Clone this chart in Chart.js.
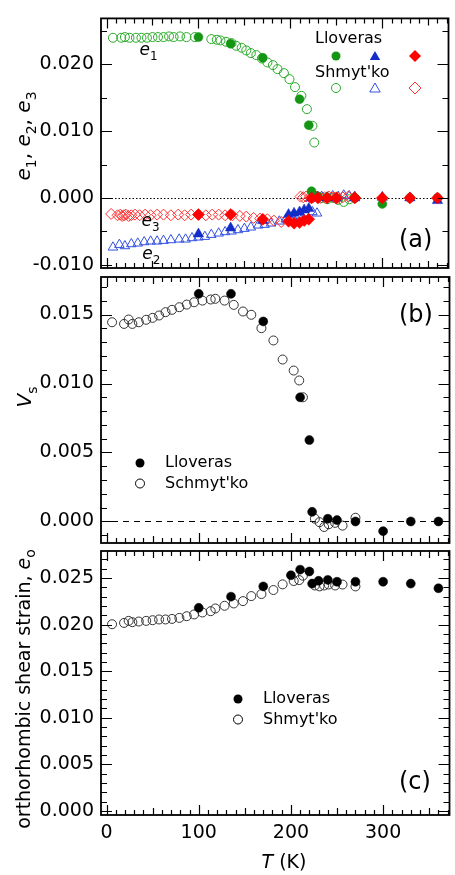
<!DOCTYPE html>
<html>
<head>
<meta charset="utf-8">
<script src="https://cdn.jsdelivr.net/npm/chart.js@4.4.1/dist/chart.umd.min.js"></script>
<style>
  html, body { margin: 0; padding: 0; background: #fff; }
  #wrap { position: relative; width: 455px; height: 875px; }
  canvas { position: absolute; left: 0; top: 0; }
</style>
</head>
<body>
<div id="wrap">
  <canvas id="pa" width="455" height="875"></canvas>
  <canvas id="pb" width="455" height="875"></canvas>
  <canvas id="pc" width="455" height="875"></canvas>
</div>
<script>
// ---- data ----
const xTicks = [0, 100, 200, 300];

// (a) strains e1, e2, e3
const tLloverasA = [100, 135, 170, 198, 204, 210, 215, 220, 223, 230, 240, 250, 270, 300, 330, 360];
const e1Lloveras = [0.0241, 0.0231, 0.0210, null, null, 0.0148, null, 0.0109, 0.0010, 0.0002, 0.0001, 0.0, 0.0, -0.0009, 0.0, 0.0];
const e2Lloveras = [-0.0054, -0.0045, -0.0034, -0.0025, -0.0023, -0.0021, -0.0018, -0.0016, 0.0, 0.0001, 0.0, 0.0, 0.0, 0.0001, 0.0, -0.0004];
const e3Lloveras = [-0.0025, -0.0025, -0.0032, -0.0035, -0.0038, -0.0037, -0.0034, -0.0032, 0.0, 0.0, 0.0, 0.0, 0.0, 0.0, 0.0, 0.0];

const tE1Shmytko = [7, 16, 20, 25, 32, 38, 44, 50, 56, 62, 68, 73, 80, 87, 96,
  114, 120, 124, 130, 136, 141, 147, 152, 157, 163, 169,
  175, 181, 186, 193, 199, 205, 212, 218, 224, 226,
  229, 234, 240, 246, 252, 258, 264, 270];
const e1Shmytko = [0.0240, 0.0240, 0.0241, 0.0240, 0.0240, 0.0240, 0.0240, 0.0241, 0.0241, 0.0241, 0.0242, 0.0241, 0.0242, 0.0241, 0.0241,
  0.0238, 0.0237, 0.0236, 0.0234, 0.0232, 0.0228, 0.0225, 0.0221, 0.0217, 0.0214, 0.0209,
  0.0203, 0.0199, 0.0193, 0.0187, 0.0178, 0.0166, 0.0153, 0.0133, 0.0108, 0.0083,
  0.0002, 0.0, -0.0002, 0.0, -0.0003, -0.0006, -0.0002, 0.0];

const tE2Shmytko = [7, 14, 20, 27, 34, 41, 48, 55, 62, 70, 79, 86, 93, 100, 107, 114, 122, 129, 136, 143,
  150, 157, 165, 172, 179, 188, 195, 202, 209, 216, 224, 229,
  234, 240, 246, 252, 258, 264, 270];
const e2Shmytko = [-0.0074, -0.0070, -0.0072, -0.0069, -0.0068, -0.0066, -0.0065, -0.0065, -0.0064, -0.0063,
  -0.0062, -0.0062, -0.0060, -0.0059, -0.0058, -0.0055, -0.0053, -0.0051, -0.0050, -0.0048,
  -0.0046, -0.0044, -0.0041, -0.0040, -0.0038, -0.0035, -0.0032, -0.0028, -0.0026, -0.0023, -0.0021, -0.0023,
  0.0002, 0.0001, 0.0003, 0.0002, 0.0004, 0.0003, 0.0002];

const tE3Shmytko = [5, 12, 15, 17, 19, 21, 24, 27, 31, 36, 42, 48, 55, 62, 70, 78, 85, 92, 100, 108,
  115, 122, 129, 137, 145, 152, 160, 167, 175, 182, 190,
  211, 214, 217, 221, 225, 229, 233, 237, 242, 247, 252, 257, 263, 270];
const e3Shmytko = [-0.0024, -0.0026, -0.0025, -0.0027, -0.0026, -0.0025, -0.0027, -0.0026, -0.0025, -0.0026,
  -0.0025, -0.0026, -0.0025, -0.0025, -0.0026, -0.0025, -0.0026, -0.0025, -0.0025, -0.0026,
  -0.0025, -0.0025, -0.0026, -0.0026, -0.0027, -0.0028, -0.0030, -0.0031, -0.0032, -0.0034, -0.0036,
  0.0002, 0.0001, 0.0002, 0.0001, 0.0001, 0.0002, 0.0000, 0.0001, 0.0002, 0.0001, 0.0000, 0.0001, 0.0002, 0.0001];

// (b) Vs
const tLloverasB = [100, 135, 170, 210, 220, 223, 240, 250, 270, 300, 330, 360];
const vsLloveras = [0.0165, 0.0165, 0.0145, 0.0090, 0.0059, 0.0007, 0.0002, 0.0001, 0.0000, -0.0007, 0.0000, 0.0000];

const tShmytko = [6, 19, 24, 28, 35, 43, 50, 57, 64, 71, 79, 87, 95, 104, 113, 118, 128, 138, 148, 157,
  168, 181, 191, 203, 209, 213, 226, 231, 236, 241, 248, 256, 270];
const vsShmytko = [0.01444, 0.01432, 0.01464, 0.01432, 0.01444, 0.01462, 0.01476, 0.01493, 0.01517, 0.01534,
  0.01553, 0.01572, 0.01589, 0.01601, 0.01609, 0.01614, 0.01601, 0.0157, 0.01522, 0.01498,
  0.01401, 0.01312, 0.01174, 0.01094, 0.01022, 0.0090, 0.0002, -0.00005, -0.0004, -0.0002, -0.0001, -0.0003, 0.00027];

// (c) orthorhombic shear strain eo
const tLloverasC = [100, 135, 170, 200, 210, 220, 223, 230, 240, 250, 270, 300, 330, 360];
const eoLloveras = [0.0218, 0.0230, 0.0241, 0.0253, 0.0259, 0.0257, 0.0244, 0.0247, 0.0248, 0.0246, 0.0246, 0.0246, 0.0244, 0.0239];
const eoShmytko = [0.02004, 0.02018, 0.0204, 0.02026, 0.02033, 0.0204, 0.02047, 0.02055, 0.02055, 0.02061,
  0.02072, 0.0209, 0.02109, 0.0213, 0.02144, 0.02173, 0.02202, 0.02227, 0.02252, 0.02306,
  0.02328, 0.02371, 0.02432, 0.02468, 0.02478, 0.02525, 0.0242, 0.0241, 0.0242, 0.0243, 0.0242, 0.0243, 0.0241];

// ---- styling ----
const FONT = '"DejaVu Sans", sans-serif';
const X_MIN = -6, X_MAX = 372;
const GREEN = 'rgb(20,150,20)', GREEN_O = 'rgb(40,170,40)';
const BLUE = 'rgb(20,45,200)', BLUE_O = 'rgb(50,80,225)';
const RED = 'rgb(255,0,0)', RED_O = 'rgb(255,50,50)';

function pts(ts, vs) {
  return ts.map((t, i) => ({ x: t, y: vs[i] })).filter(p => p.y !== null);
}
function filled(label, ts, vs, color, style, r) {
  return { label, data: pts(ts, vs), pointStyle: style, pointRadius: r,
    backgroundColor: color, borderColor: color, pointBorderWidth: 0.5 };
}
function open(label, ts, vs, color, style, r) {
  return { label, data: pts(ts, vs), pointStyle: style, pointRadius: r,
    backgroundColor: 'rgba(0,0,0,0)', borderColor: color, pointBorderWidth: 1 };
}

// text with italic parts and subscripts
function rich(ctx, parts, x, y, size, rot, align) {
  ctx.save();
  ctx.translate(x, y);
  if (rot) ctx.rotate(rot);
  const fontOf = p => (p.i ? 'italic ' : '') + Math.round(p.s ? size * 0.72 : size) + 'px ' + FONT;
  let w = 0;
  parts.forEach(p => { ctx.font = fontOf(p); w += ctx.measureText(p.t).width; });
  let cx = align === 'left' ? 0 : -w / 2;
  ctx.fillStyle = '#000';
  ctx.textBaseline = 'alphabetic';
  ctx.textAlign = 'left';
  parts.forEach(p => {
    ctx.font = fontOf(p);
    ctx.fillText(p.t, cx, p.s ? size * 0.28 : 0);
    cx += ctx.measureText(p.t).width;
  });
  ctx.restore();
}

function marker(ctx, style, x, y, r, color, isOpen) {
  ctx.save();
  ctx.beginPath();
  if (style === 'circle') ctx.arc(x, y, r, 0, Math.PI * 2);
  else if (style === 'triangle') {
    for (let k = 0; k < 3; k++) {
      const a = k * 2 * Math.PI / 3;
      ctx.lineTo(x + Math.sin(a) * r, y - Math.cos(a) * r);
    }
    ctx.closePath();
  } else {
    ctx.moveTo(x - r, y); ctx.lineTo(x, y - r); ctx.lineTo(x + r, y); ctx.lineTo(x, y + r); ctx.closePath();
  }
  ctx.lineWidth = 1;
  if (isOpen) { ctx.strokeStyle = color; ctx.stroke(); }
  else { ctx.fillStyle = color; ctx.fill(); }
  ctx.restore();
}

function label(ctx, txt, x, y, size) {
  ctx.save();
  ctx.font = size + 'px ' + FONT;
  ctx.fillStyle = '#000';
  ctx.textAlign = 'left';
  ctx.textBaseline = 'middle';
  ctx.fillText(txt, x, y);
  ctx.restore();
}

const panels = {
  pa: {
    yMin: -0.0105, yMax: 0.0269, major: 0.010, minor: 0.005, zeroDash: [1.5, 2],
    extra(ctx, chart) {
      const xs = chart.scales.x, ys = chart.scales.y;
      rich(ctx, [{ t: 'e', i: 1 }, { t: '1', s: 1 }], xs.getPixelForValue(36), ys.getPixelForValue(0.0214), 17, 0, 'left');
      rich(ctx, [{ t: 'e', i: 1 }, { t: '3', s: 1 }], xs.getPixelForValue(38), ys.getPixelForValue(-0.0042), 17, 0, 'left');
      rich(ctx, [{ t: 'e', i: 1 }, { t: '2', s: 1 }], xs.getPixelForValue(39), ys.getPixelForValue(-0.0092), 17, 0, 'left');
      rich(ctx, [{ t: 'e', i: 1 }, { t: '1', s: 1 }, { t: ', ' }, { t: 'e', i: 1 }, { t: '2', s: 1 }, { t: ', ' },
        { t: 'e', i: 1 }, { t: '3', s: 1 }], 30, 136, 20, -Math.PI / 2);
      label(ctx, 'Lloveras', 315, 39, 16);
      label(ctx, "Shmyt'ko", 315, 73, 16);
      marker(ctx, 'circle', 336, 56, 4.5, GREEN, false);
      marker(ctx, 'triangle', 375, 57, 6, BLUE, false);
      marker(ctx, 'diamond', 415, 56, 6, RED, false);
      marker(ctx, 'circle', 336, 88, 4.5, GREEN_O, true);
      marker(ctx, 'triangle', 375, 89, 6, BLUE_O, true);
      marker(ctx, 'diamond', 415, 88, 6, RED_O, true);
      label(ctx, '(a)', 399, 241, 24);
    }
  },
  pb: {
    yMin: -0.00156, yMax: 0.01772, major: 0.005, minor: 0.001, zeroDash: [6, 5],
    extra(ctx) {
      rich(ctx, [{ t: 'V', i: 1 }, { t: 's', s: 1 }], 31, 397, 20, -Math.PI / 2);
      marker(ctx, 'circle', 140, 463, 4.5, '#000', false);
      marker(ctx, 'circle', 140, 483.5, 4.5, '#000', true);
      label(ctx, 'Lloveras', 165, 463, 16);
      label(ctx, "Schmyt'ko", 165, 484, 16);
      label(ctx, '(b)', 399, 316, 24);
    }
  },
  pc: {
    yMin: -0.00044, yMax: 0.0279, major: 0.005, minor: 0.001, zeroDash: null,
    extra(ctx) {
      rich(ctx, [{ t: 'orthorhombic shear strain, ' }, { t: 'e', i: 1 }, { t: 'o', s: 1 }], 30, 689, 19, -Math.PI / 2);
      marker(ctx, 'circle', 238, 699, 4.5, '#000', false);
      marker(ctx, 'circle', 238, 719.5, 4.5, '#000', true);
      label(ctx, 'Lloveras', 263, 699, 16);
      label(ctx, "Shmyt'ko", 263, 720, 16);
      label(ctx, '(c)', 399, 783, 24);
      rich(ctx, [{ t: 'T', i: 1 }, { t: ' (K)' }], 284, 868, 19, 0);
    }
  }
};

const framePlugin = {
  id: 'frame',
  beforeDatasetsDraw(chart) {
    const p = panels[chart.canvas.id];
    if (!p.zeroDash) return;
    const { ctx, chartArea: a } = chart;
    const py = Math.round(chart.scales.y.getPixelForValue(0)) + 0.5;
    ctx.save();
    ctx.strokeStyle = '#000';
    ctx.lineWidth = 1;
    ctx.setLineDash(p.zeroDash);
    ctx.beginPath(); ctx.moveTo(a.left, py); ctx.lineTo(a.right, py); ctx.stroke();
    ctx.restore();
  },
  afterDraw(chart) {
    const p = panels[chart.canvas.id];
    const { ctx, chartArea: a } = chart;
    const xs = chart.scales.x, ys = chart.scales.y;
    ctx.save();
    ctx.strokeStyle = '#000';
    ctx.lineWidth = 1.2;
    ctx.beginPath();
    for (let t = 0; t <= X_MAX; t += 10) {
      const px = Math.round(xs.getPixelForValue(t)) + 0.5;
      const len = t % 100 === 0 ? 10 : (t % 50 === 0 ? 7 : 5);
      ctx.moveTo(px, a.bottom); ctx.lineTo(px, a.bottom - len);
      ctx.moveTo(px, a.top); ctx.lineTo(px, a.top + len);
    }
    const k0 = Math.ceil(p.yMin / p.minor - 1e-9), k1 = Math.floor(p.yMax / p.minor + 1e-9);
    for (let k = k0; k <= k1; k++) {
      const v = k * p.minor;
      const isMajor = Math.abs(v / p.major - Math.round(v / p.major)) < 1e-6;
      const len = isMajor ? 11 : 6;
      const py = Math.round(ys.getPixelForValue(v)) + 0.5;
      ctx.moveTo(a.left, py); ctx.lineTo(a.left + len, py);
      ctx.moveTo(a.right, py); ctx.lineTo(a.right - len, py);
    }
    ctx.stroke();
    ctx.lineWidth = 1.8;
    ctx.strokeRect(a.left, a.top, a.right - a.left, a.bottom - a.top);
    ctx.restore();
    p.extra(ctx, chart);
  }
};

function makeChart(id, datasets, padTop, padBottom, showX) {
  const p = panels[id];
  const yMajors = [];
  for (let v = Math.ceil(p.yMin / p.major - 1e-9); v <= Math.floor(p.yMax / p.major + 1e-9); v++) yMajors.push(v * p.major);
  return new Chart(document.getElementById(id), {
    type: 'scatter',
    data: { datasets },
    options: {
      responsive: false,
      animation: false,
      devicePixelRatio: 1,
      layout: { padding: { top: padTop, bottom: padBottom, left: 0, right: 1 } },
      plugins: { legend: { display: false }, tooltip: { enabled: false } },
      scales: {
        x: {
          type: 'linear', min: X_MIN, max: X_MAX, display: showX,
          grid: { display: false, drawTicks: false }, border: { display: false },
          afterBuildTicks: s => { s.ticks = xTicks.map(v => ({ value: v })); },
          afterFit: s => { if (showX) s.height = 60; },
          ticks: { color: '#000', padding: 7, font: { family: FONT, size: 19 }, maxRotation: 0 }
        },
        y: {
          type: 'linear', min: p.yMin, max: p.yMax,
          grid: { display: false, drawTicks: false }, border: { display: false },
          afterBuildTicks: s => { s.ticks = yMajors.map(v => ({ value: v })); },
          afterFit: s => { s.width = 101; },
          ticks: { color: '#000', padding: 7, font: { family: FONT, size: 19 },
            callback: v => (Math.abs(v) < 1e-9 ? 0 : v).toFixed(3) }
        }
      }
    },
    plugins: [framePlugin]
  });
}

makeChart('pa', [
  filled('Lloveras e3', tLloverasA, e3Lloveras, RED, 'rectRot', 6),
  filled('Lloveras e2', tLloverasA, e2Lloveras, BLUE, 'triangle', 6),
  filled('Lloveras e1', tLloverasA, e1Lloveras, GREEN, 'circle', 4.5),
  open("Shmyt'ko e3", tE3Shmytko, e3Shmytko, RED_O, 'rectRot', 5.5),
  open("Shmyt'ko e2", tE2Shmytko, e2Shmytko, BLUE_O, 'triangle', 5.5),
  open("Shmyt'ko e1", tE1Shmytko, e1Shmytko, GREEN_O, 'circle', 4.5)
], 8, 875 - 268, false);

makeChart('pb', [
  filled('Lloveras', tLloverasB, vsLloveras, '#000', 'circle', 4.5),
  open("Schmyt'ko", tShmytko, vsShmytko, '#333', 'circle', 4.5)
], 277, 875 - 543, false);

makeChart('pc', [
  filled('Lloveras', tLloverasC, eoLloveras, '#000', 'circle', 4.5),
  open("Shmyt'ko", tShmytko, eoShmytko, '#333', 'circle', 4.5)
], 551, 0, true);
</script>
</body>
</html>
